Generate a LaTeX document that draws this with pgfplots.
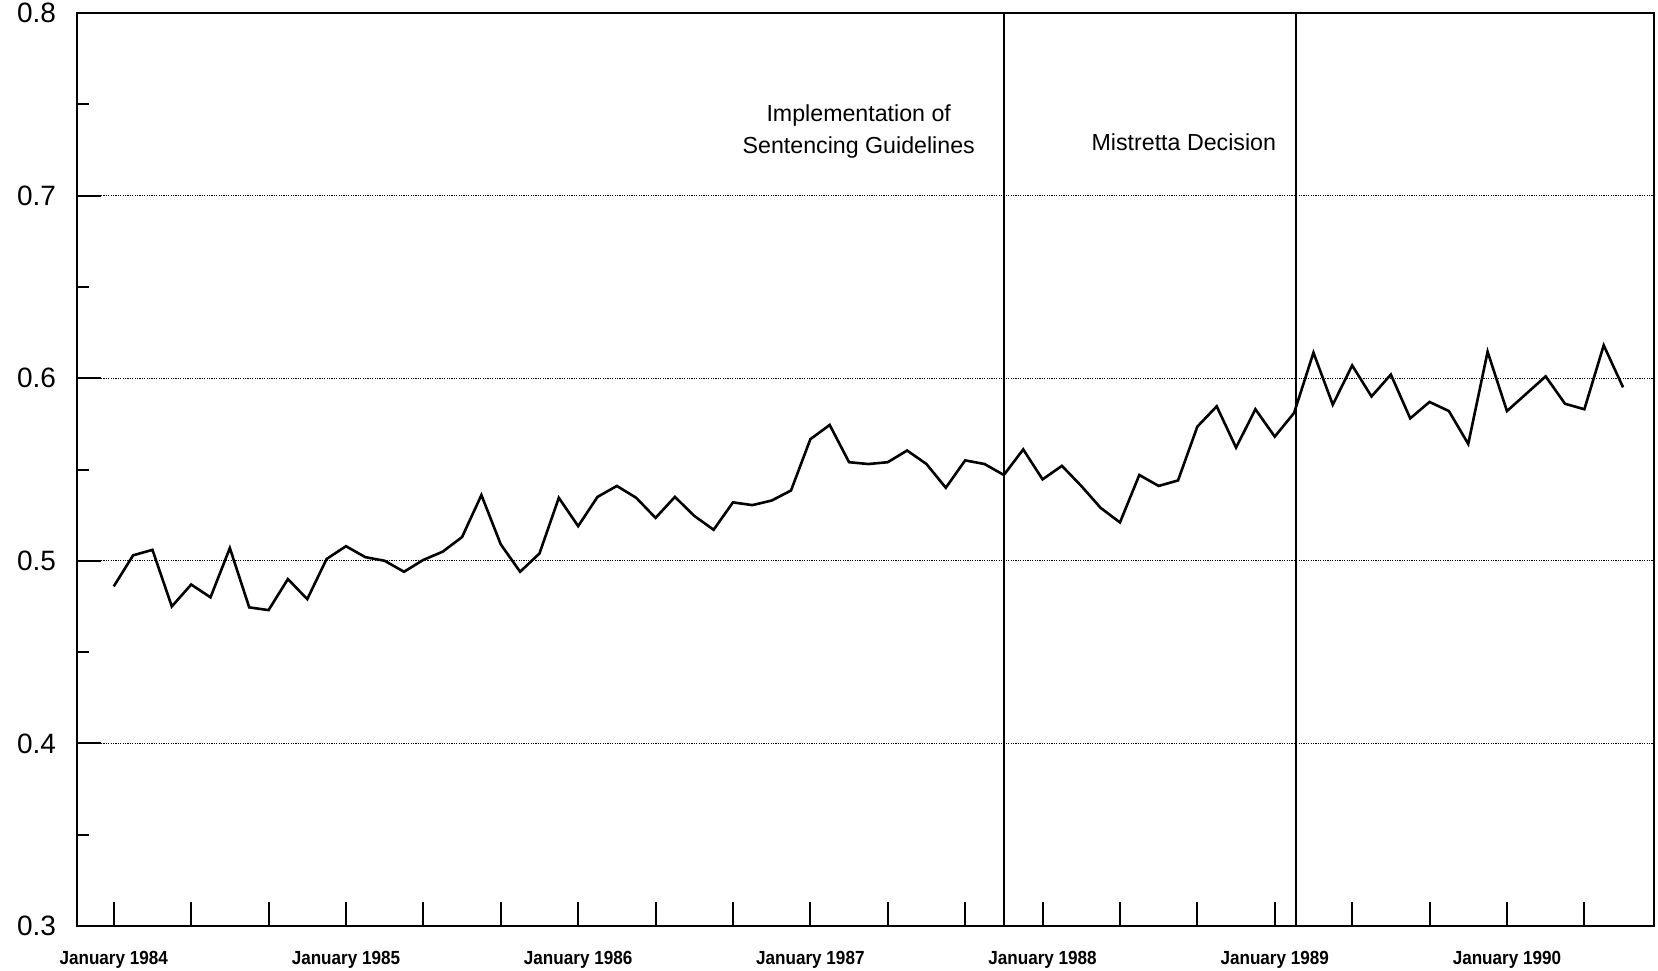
\documentclass[border=0pt]{standalone}
\usepackage{fontspec}
\setmainfont{Liberation Sans}
\newfontfamily\xlabfont[FakeStretch=0.9]{Liberation Sans Bold}
\usepackage{pgfplots}
\pgfplotsset{compat=1.18}
\pgfplotstableread{
m v
0 0.486
1 0.503
2 0.506
3 0.475
4 0.487
5 0.480
6 0.507
7 0.4745
8 0.473
9 0.490
10 0.479
11 0.501
12 0.508
13 0.502
14 0.500
15 0.494
16 0.5005
17 0.505
18 0.513
19 0.536
20 0.509
21 0.494
22 0.504
23 0.5345
24 0.519
25 0.535
26 0.541
27 0.5345
28 0.5235
29 0.535
30 0.5246
31 0.517
32 0.532
33 0.5305
34 0.533
35 0.5385
36 0.5666
37 0.5744
38 0.554
39 0.553
40 0.554
41 0.5604
42 0.553
43 0.540
44 0.555
45 0.553
46 0.547
47 0.561
48 0.5446
49 0.552
50 0.541
51 0.529
52 0.521
53 0.547
54 0.541
55 0.544
56 0.5735
57 0.5846
58 0.562
59 0.583
60 0.568
61 0.581
62 0.614
63 0.5855
64 0.607
65 0.590
66 0.602
67 0.578
68 0.587
69 0.582
70 0.564
71 0.6145
72 0.582
73 0.5915
74 0.601
75 0.586
76 0.583
77 0.618
78 0.595
}\datatable
\begin{document}
\begin{tikzpicture}
\begin{axis}[
  at={(0,0)}, anchor=south west,
  scale only axis,
  width=788.5pt, height=456.5pt,
  xmin=-1.9, xmax=79.6,
  ymin=0.3, ymax=0.8,
  axis line style={line width=1.2pt},
  tick align=inside,
  major tick length=12pt,
  minor tick length=6pt,
  tick style={line width=1pt, black},
  xtick={0,4,...,76},
  xticklabels={January 1984,,,January 1985,,,January 1986,,,January 1987,,,January 1988,,,January 1989,,,January 1990,,},
  xticklabel style={font=\xlabfont\fontsize{9.5}{11}\selectfont, yshift=-9pt},
  ytick={0.3,0.4,...,0.8},
  minor ytick={0.35,0.45,...,0.75},
  yticklabel style={font=\fontsize{14}{16}\selectfont, xshift=-7pt},
  /pgf/number format/assume math mode=true,
  /pgf/number format/.cd, fixed, fixed zerofill, precision=1,
  /pgfplots/.cd,
  ymajorgrids,
  major grid style={line width=0.5pt, black, dash pattern=on 0.6pt off 0.6pt},
  xtick pos=bottom, ytick pos=left,
  clip=false,
]
\addplot[black, line width=1.3pt] table[x=m, y=v] {\datatable};
\addplot[black, line width=1pt] coordinates {(46,0.3) (46,0.8)};
\addplot[black, line width=1pt] coordinates {(61.1,0.3) (61.1,0.8)};
\node[align=center, font=\fontsize{11.6}{15.8}\selectfont] at (axis cs:38.5,0.735) {Implementation of\\Sentencing Guidelines};
\node[font=\fontsize{11.6}{15.8}\selectfont] at (axis cs:55.3,0.7295) {Mistretta Decision};
\end{axis}
\pgfresetboundingbox
\useasboundingbox (-38.5pt,-22pt) rectangle (790.5pt,463pt);
\end{tikzpicture}
\end{document}
